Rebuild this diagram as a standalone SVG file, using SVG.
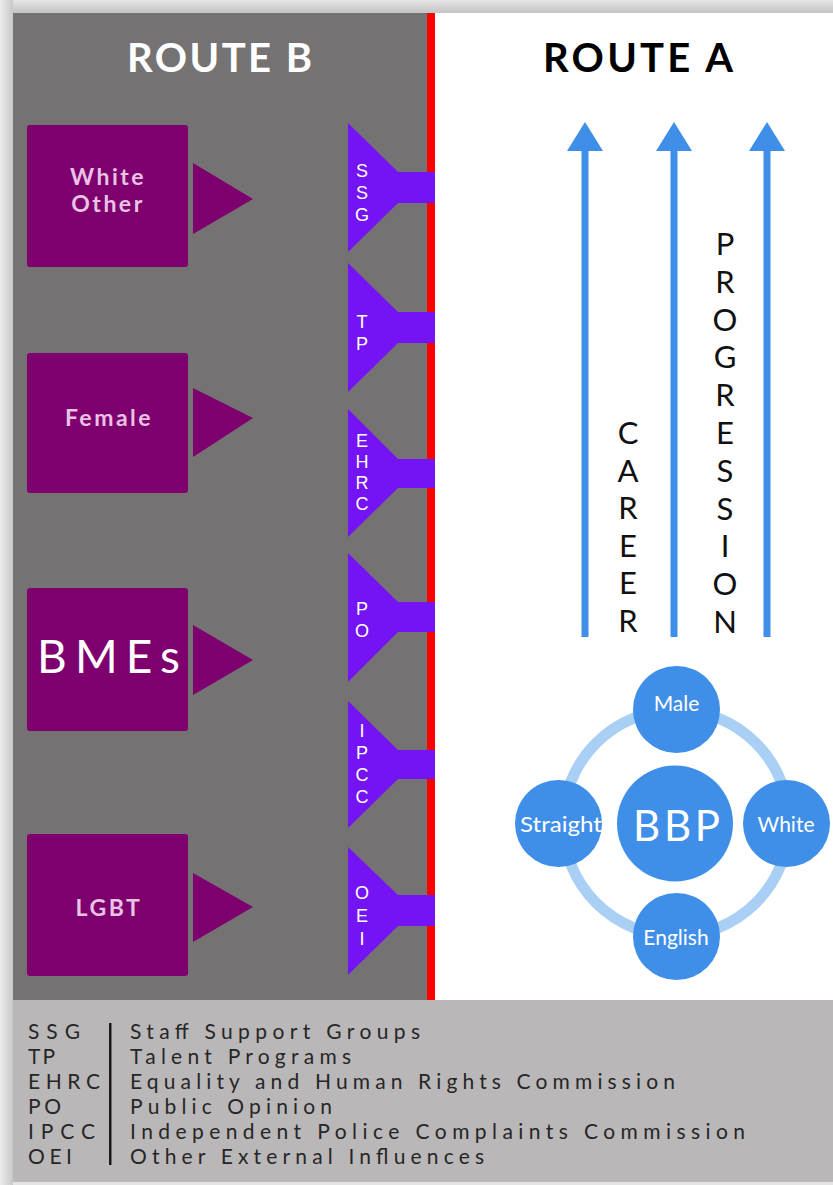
<svg xmlns="http://www.w3.org/2000/svg" width="833" height="1185" viewBox="0 0 833 1185">
<defs>
<linearGradient id="topg" x1="0" y1="0" x2="0" y2="1"><stop offset="0" stop-color="#e6e6e6"/><stop offset="1" stop-color="#c4c4c4"/></linearGradient>
<linearGradient id="leftg" x1="0" y1="0" x2="1" y2="0"><stop offset="0" stop-color="#ececec"/><stop offset="1" stop-color="#c8c8c8"/></linearGradient>
</defs>
<style>
.box{fill:#7d006e}
.tri{fill:#7d006e}
.fun{fill:#7414f4}
.fl{font-family:"Liberation Sans",Arial,sans-serif;font-size:18px;fill:#ffffff;text-anchor:middle}
.bl{font-family:Lato,"Liberation Sans",sans-serif;font-weight:bold;font-size:23px;fill:#e9c2e4;text-anchor:middle}
.arr{fill:#3f8fe9}
.vl{font-family:Lato,"Liberation Sans",sans-serif;font-size:31px;fill:#111111;text-anchor:middle}
.cir{fill:#3f8fe9}
.ct{font-family:Lato,"Liberation Sans",sans-serif;font-size:21px;fill:#ffffff;text-anchor:middle}
.lg{font-family:Lato,"Liberation Sans",sans-serif;font-size:21px;fill:#262626}
</style>
<rect x="0" y="0" width="833" height="1185" fill="#e4e4e4"/>
<rect x="0" y="0" width="833" height="13" fill="url(#topg)"/>
<rect x="0" y="0" width="13" height="1185" fill="url(#leftg)"/>
<rect x="13" y="13" width="414" height="987" fill="#747273"/>
<rect x="435" y="13" width="398" height="987" fill="#ffffff"/>
<rect x="427" y="13" width="8" height="987" fill="#ff0000"/>
<rect x="13" y="1000" width="820" height="182" fill="#bab7b8"/>

<text x="127" y="72" textLength="185" lengthAdjust="spacing" font-family="Lato,'Liberation Sans',sans-serif" font-weight="bold" font-size="40" fill="#ffffff">ROUTE B</text>
<text x="543" y="72" textLength="190" lengthAdjust="spacing" font-family="Lato,'Liberation Sans',sans-serif" font-weight="bold" font-size="40" fill="#000000">ROUTE A</text>

<g id="white-other">
<rect class="box" x="27" y="125" width="161" height="142" rx="3"/>
<polygon class="tri" points="193,163 253,199 193,234"/>
<text class="bl" x="108" y="185" letter-spacing="2.5">White</text>
<text class="bl" x="108" y="212" letter-spacing="2.5">Other</text>
</g>
<g id="female">
<rect class="box" x="27" y="353" width="161" height="140" rx="3"/>
<polygon class="tri" points="193,388 253,418 193,457"/>
<text class="bl" x="109" y="426" letter-spacing="2.5">Female</text>
</g>
<g id="bmes">
<rect class="box" x="27" y="588" width="161" height="143" rx="3"/>
<polygon class="tri" points="193,625 253,660 193,695"/>
<text x="37" y="673" textLength="143" lengthAdjust="spacing" font-family="Lato,'Liberation Sans',sans-serif" font-size="46" fill="#ffffff">BMEs</text>
</g>
<g id="lgbt">
<rect class="box" x="27" y="834" width="161" height="142" rx="3"/>
<polygon class="tri" points="193,873 253,907 193,942"/>
<text class="bl" x="109" y="916" letter-spacing="2.5">LGBT</text>
</g>

<g id="ssg">
<polygon class="fun" points="348,123 398,172 435,172 435,203 398,203 348,252"/>
<text class="fl"><tspan x="362" y="177">S</tspan><tspan x="362" y="199">S</tspan><tspan x="362" y="221">G</tspan></text>
</g>
<g id="tp">
<polygon class="fun" points="348,263 398,312 435,312 435,343 398,343 348,392"/>
<text class="fl"><tspan x="362" y="328">T</tspan><tspan x="362" y="350">P</tspan></text>
</g>
<g id="ehrc">
<polygon class="fun" points="348,409 398,459 435,459 435,488 398,488 348,537"/>
<text class="fl"><tspan x="362" y="447">E</tspan><tspan x="362" y="468">H</tspan><tspan x="362" y="489">R</tspan><tspan x="362" y="510">C</tspan></text>
</g>
<g id="po">
<polygon class="fun" points="348,553 398,602 435,602 435,632 398,632 348,682"/>
<text class="fl"><tspan x="362" y="615">P</tspan><tspan x="362" y="637">O</tspan></text>
</g>
<g id="ipcc">
<polygon class="fun" points="348,701 398,750 435,750 435,779 398,779 348,828"/>
<text class="fl"><tspan x="362" y="737">I</tspan><tspan x="362" y="759">P</tspan><tspan x="362" y="781">C</tspan><tspan x="362" y="803">C</tspan></text>
</g>
<g id="oei">
<polygon class="fun" points="348,847 398,895 435,895 435,926 398,926 348,975"/>
<text class="fl"><tspan x="362" y="899">O</tspan><tspan x="362" y="922">E</tspan><tspan x="362" y="945">I</tspan></text>
</g>

<g id="connectors">
<rect class="arr" x="581.5" y="148" width="7" height="489"/>
<polygon class="arr" points="585,122 567,151 603,151"/>
<rect class="arr" x="670.5" y="148" width="7" height="489"/>
<polygon class="arr" points="674,122 656,151 692,151"/>
<rect class="arr" x="763.5" y="148" width="7" height="489"/>
<polygon class="arr" points="767,122 749,151 785,151"/>
<circle cx="676" cy="823" r="113" fill="none" stroke="#a9cff5" stroke-width="11"/>
</g>

<g id="career">
<text class="vl"><tspan x="628" y="444">C</tspan><tspan x="628" y="482">A</tspan><tspan x="628" y="519">R</tspan><tspan x="628" y="557">E</tspan><tspan x="628" y="594">E</tspan><tspan x="628" y="632">R</tspan></text>
</g>
<g id="progression">
<text class="vl"><tspan x="725" y="255">P</tspan><tspan x="725" y="293">R</tspan><tspan x="725" y="331">O</tspan><tspan x="725" y="368">G</tspan><tspan x="725" y="406">R</tspan><tspan x="725" y="444">E</tspan><tspan x="725" y="482">S</tspan><tspan x="725" y="520">S</tspan><tspan x="725" y="557">I</tspan><tspan x="725" y="595">O</tspan><tspan x="725" y="633">N</tspan></text>
</g>

<g id="male"><circle class="cir" cx="676.5" cy="709.5" r="43.5"/><text class="ct" x="676.5" y="711">Male</text></g>
<g id="straight"><circle class="cir" cx="558.5" cy="823.5" r="43.5"/><text class="ct" x="561" y="832" textLength="82" lengthAdjust="spacingAndGlyphs">Straight</text></g>
<g id="white"><circle class="cir" cx="786.5" cy="823.5" r="43.5"/><text class="ct" x="786" y="832">White</text></g>
<g id="english"><circle class="cir" cx="676.5" cy="936.5" r="43.5"/><text class="ct" x="676" y="945">English</text></g>
<g id="bbp"><circle class="cir" cx="675" cy="823.5" r="58"/><text x="633" y="841" textLength="87" lengthAdjust="spacing" font-family="Lato,'Liberation Sans',sans-serif" font-size="42" fill="#ffffff">BBP</text></g>

<g id="legend">
<text class="lg" x="28" y="1039" textLength="52" lengthAdjust="spacing">SSG</text>
<text class="lg" x="28" y="1064" textLength="27" lengthAdjust="spacing">TP</text>
<text class="lg" x="28" y="1089" textLength="72" lengthAdjust="spacing">EHRC</text>
<text class="lg" x="28" y="1114" textLength="33" lengthAdjust="spacing">PO</text>
<text class="lg" x="28" y="1139" textLength="67" lengthAdjust="spacing">IPCC</text>
<text class="lg" x="28" y="1164" textLength="44" lengthAdjust="spacing">OEI</text>
<rect x="109" y="1023" width="2.5" height="142" fill="#1a1a1a"/>
<text class="lg" x="130" y="1039" textLength="290" lengthAdjust="spacing">Staff Support Groups</text>
<text class="lg" x="130" y="1064" textLength="221" lengthAdjust="spacing">Talent Programs</text>
<text class="lg" x="130" y="1089" textLength="545" lengthAdjust="spacing">Equality and Human Rights Commission</text>
<text class="lg" x="130" y="1114" textLength="202" lengthAdjust="spacing">Public Opinion</text>
<text class="lg" x="130" y="1139" textLength="615" lengthAdjust="spacing">Independent Police Complaints Commission</text>
<text class="lg" x="130" y="1164" textLength="354" lengthAdjust="spacing">Other External Influences</text>
</g>
</svg>
